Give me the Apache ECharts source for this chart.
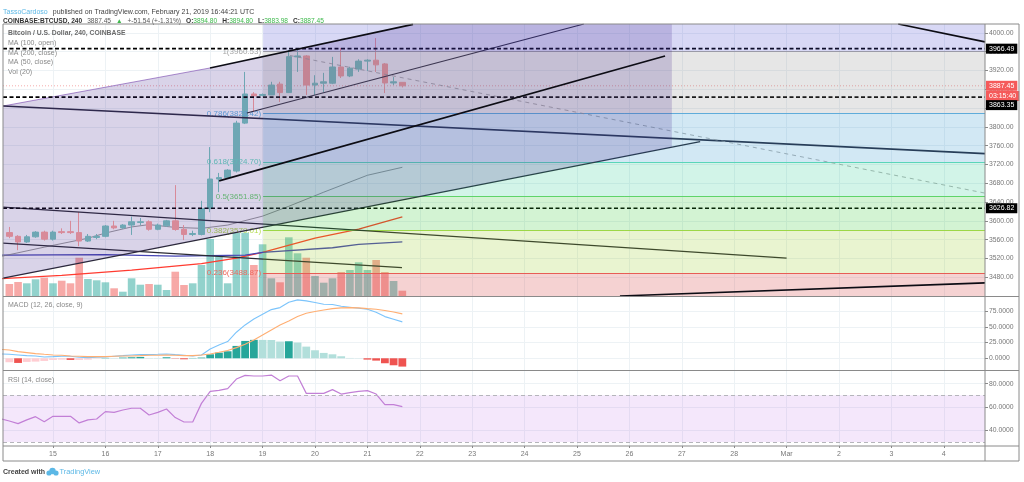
<!DOCTYPE html>
<html><head><meta charset="utf-8">
<style>html,body{margin:0;padding:0;background:#fff}#c{width:1024px;height:482px}</style>
<script src="https://cdn.jsdelivr.net/npm/echarts@6/dist/echarts.min.js"></script>
</head><body><div id="c"></div>
<script>
// x unit: day of February 2019 (Mar 1 = 29), one bar = 4 hours
const firstBarDay = 14 + 1/6, barStepDays = 1/6;
const dayTicks = [15,16,17,18,19,20,21,22,23,24,25,26,27,28,29,30,31,32];
const priceTicks = [3480,3520,3560,3600,3640,3680,3720,3760,3800,3840,3880,3920,3960,4000];
const macdTicks = [0,25,50,75];
const rsiTicks = [40,60,80];
// open, close, low, high
const candles = [
[3575,3567,3563,3587],[3567,3555,3537.5,3569.5],[3555,3566,3553,3570],[3566,3576,3564,3578],[3576,3561,3558,3579],
[3561,3576,3558,3579],[3577,3575,3572,3584],[3577,3575,3572,3600],[3575,3557,3546,3619],[3557,3567,3555,3572],
[3564.6,3567,3561,3572],[3567,3589,3565,3591],[3589,3585,3582,3600],[3585,3591,3583,3593],[3591,3598,3570,3609],
[3596.5,3598,3591,3606],[3598,3582,3579,3601],[3582,3591,3580,3594],[3589.3,3600,3587,3602],[3600,3581.6,3579,3676],
[3582,3571,3559,3591],[3571,3573,3567.5,3579],[3571,3626,3569,3642.6],[3626,3689,3618.5,3757],[3689,3692,3661,3702],
[3692,3708,3690,3710],[3706,3808,3703,3813],[3808,3870,3806,3917],[3870,3866,3832,3874],[3867,3869,3865,3871],
[3868,3889,3868,3896],[3891,3873,3853,3896],[3873,3949.5,3872,3964],[3949,3951,3917,3964],[3951,3889,3868,3953],
[3889,3893,3868,3910],[3893,3896,3874,3915],[3893,3927.5,3891,3949],[3927.5,3908.4,3904,3968],[3908.4,3925,3906,3928],
[3923,3940,3917,3944],[3940,3942,3919,3944],[3942,3932,3917,3989],[3934,3893.5,3872,3936],[3893.5,3896,3889,3906],
[3894.8,3887.45,3883.98,3894.8]];
const volumes = [120,140,127,167,183,127,153,127,383,170,157,137,77,43,177,113,120,113,60,243,
110,127,310,570,410,127,630,633,310,517,177,137,587,427,383,200,133,177,240,260,337,260,360,240,150,53];
// first value of the line arrays lies one bar before the first candle
const macdLine = [7,6.3,5.3,4.2,3.7,2.1,2.6,3.2,3.2,1.6,1.1,1.6,2.1,3.2,4.2,5.3,5.8,5.8,6.3,6.9,5.8,4.8,3.7,5.3,14.8,21.2,26.5,41.3,52.9,62.4,69.8,77.2,80.4,88.9,92.6,91,88.4,85.7,85.2,82.5,81,79.4,77.8,73,66.1,61.9,57.7];
const signalLine = [14,13.2,10.6,9,7.4,6.3,5.3,4.8,3.7,3.2,2.6,2.6,2.6,3.2,3.7,3.7,4.2,4.8,4.8,5.3,4.8,4.2,4.2,5.3,6.9,9.5,12.2,16.9,22.2,29.1,37,45,52.9,59.3,66.1,71.4,74.1,76.7,78.8,79.9,80.4,79.9,78.8,77.8,75.7,73.5,70.4];
const macdHist = [-6.3,-7.4,-5.8,-5.3,-4.2,-2.6,-2.1,-2.6,-2.6,-2.1,-.5,.5,.5,1.1,1.6,2.1,.5,.5,1.6,-.5,-1.6,.5,1.1,6.3,9,11.1,19.6,27.5,29.2,29.1,29,26.5,27,24.9,18.5,12.7,8.5,6.3,3.2,.5,.3,-2.1,-3.7,-7.9,-11.1,-13.2];
const rsiLine = [50,48,45.7,48.9,51.7,47.4,52,52,52,46.3,48.9,49.7,56,55.4,57.4,58.9,58.9,53.1,55.4,58.3,50.9,47.1,47.1,63.1,73.4,74.3,75.7,84,87.1,86.6,86.6,87.4,82.6,86.6,86.6,71.7,71.7,71.7,74.9,71.1,72.3,73.4,74,71.1,62,62,60.3];
// moving averages: [bar number, price]
const ma100 = [[-1,3524],[4,3544],[9,3563],[11,3574],[14,3587],[16,3592],[19,3586],[22,3584],[25,3591],[29,3610],[32,3631],[36,3661],[41,3697],[45,3714]];
const ma50 = [[-1,3527],[11,3528],[19,3525],[27,3527],[29,3533],[37,3542.7],[40,3549.7],[45,3555]];
const ma200 = [[-1,3476.8],[6,3484],[14,3495],[22,3508.8],[26,3520.5],[29,3533],[35,3563],[40,3582.3],[45,3608.5]];
// drawings: [day, price] end points
const leftEdge = 14.046, rightEdge = 32.786, fibStart = 19.01, channelEnd = 26.81;
const channelArea = [[leftEdge,3844.4],[17.996,3925.4],[21.87,4018.1],[21.87,4019],[channelEnd,4019],[channelEnd,3757],[leftEdge,3477.9]];
const channelEdge = [[leftEdge,3844.4],[17.996,3925.4]];
const blackLines = [
 [[17.996,3925.4],[21.87,4018.1]],
 [[18.17,3685.2],[26.68,3951]],
 [[25.82,3440],[rightEdge,3467.9]],
 [[31.13,4019],[rightEdge,3980.8]]];
const underLinesBold = [
 [[leftEdge,3844.4],[rightEdge,3743]]];
const underLines = [
 [[18.70,3829.5],[25.13,4019]],
 [[leftEdge,3477.9],[27.35,3768.8]],
 [[leftEdge,3629.2],[29.0,3520.5]],
 [[leftEdge,3552.5],[21.66,3500.3]]];
const dashedTrend = [[19.52,3952],[rightEdge,3659]];
const levelPrices = [3966.49,3863.35,3626.82];
const lastPrice = 3887.45;
const fibLevels = [1,0.786,0.618,0.5,0.382,0.236];
const fibPrices = [3960.53,3828.42,3724.70,3651.85,3579.01,3488.87];
const fibLine = ['#a8a8a8','#64b5e6','#69dcc0','#6fd86f','#b4dc50','#ee6a5f'];
const fibFill = ['rgba(128,128,128,.2)','rgba(30,140,200,.2)','rgba(30,200,140,.2)','rgba(35,195,35,.2)','rgba(145,200,20,.2)','rgba(210,50,50,.22)'];
const topFill = 'rgba(60,60,205,.2)';
const FONT = '"Liberation Sans",Arial,sans-serif';
const UP='#7ac9bf', DOWN='#fea49d', GRIDC='#edf2f5', AX='#8a8a8a', TXT='#777';

const barDay = i => firstBarDay + i*barStepDays;
const leadLine = a => a.map((v,i)=>[barDay(i-1),v]);
const maLine = a => a.map(p=>[barDay(p[0]),p[1]]);
const chart = echarts.init(document.getElementById('c'),null,{renderer:'canvas'});

function xAx(idx,labels){return {type:'value',gridIndex:idx,min:leftEdge,max:rightEdge,
  axisLine:{show:false},
  axisTick:{show:labels,customValues:dayTicks,length:2,lineStyle:{color:AX}},
  axisLabel:{show:labels,customValues:dayTicks,fontSize:7,fontFamily:FONT,color:TXT,margin:5,hideOverlap:false,
     formatter:v=>v===29?'Mar':(v>29?String(v-28):String(v))},
  splitLine:{show:true,lineStyle:{color:GRIDC,width:1}}};}
function yAx(idx,ticks,min,max,dec){return {type:'value',gridIndex:idx,position:'right',min:min,max:max,scale:true,
  axisLine:{show:false},
  axisTick:{show:true,customValues:ticks,length:3,lineStyle:{color:AX}},
  axisLabel:{customValues:ticks,fontSize:6.8,fontFamily:FONT,color:TXT,margin:4,formatter:v=>v.toFixed(dec)},
  splitLine:{show:true,lineStyle:{color:GRIDC,width:1}}};}
const line=(d,color,w,z,extra)=>Object.assign({type:'line',data:d,xAxisIndex:0,yAxisIndex:0,symbol:'none',silent:true,z:z,
  lineStyle:{color:color,width:w}},extra||{});

const fibBands = fibPrices.map((p,i)=>[fibStart,rightEdge,p,i<5?fibPrices[i+1]:3440,i]);
fibBands.unshift([fibStart,rightEdge,4019,fibPrices[0],-1]);

const series=[
 // volume
 {type:'bar',xAxisIndex:0,yAxisIndex:1,barWidth:7.6,z:1,silent:true,
  data:volumes.map((v,i)=>({value:[barDay(i),v],itemStyle:{color:candles[i][1]>=candles[i][0]?'rgba(38,166,154,.5)':'rgba(239,83,80,.5)'}}))},
 // moving averages
 line(maLine(ma200),'#ff3b30',1.3,3),
 line(maLine(ma50),'#4646b4',1.3,3),
 line(maLine(ma100),'#808080',0.8,3),
 // candles
 {type:'candlestick',xAxisIndex:0,yAxisIndex:0,barWidth:6,z:4,silent:true,
  data:candles.map((c,i)=>[barDay(i),c[0],c[1],c[2],c[3]]),
  itemStyle:{color:UP,color0:DOWN,borderColor:UP,borderColor0:DOWN,borderWidth:1}},
 // last price line
 line([[leftEdge,lastPrice],[rightEdge,lastPrice]],'#f08a8a',0.7,4,{lineStyle:{color:'#f08a8a',width:0.7,type:[1,2]}}),
 // trend drawings
 line(channelEdge,'#b090d0',1,5),
 ...underLinesBold.map(l=>line(l,'#2a2a3c',1.7,5)),
 ...underLines.map(l=>line(l,'#2a2a33',1.2,5)),
 line(dashedTrend,'#a0a0a0',0.8,5,{lineStyle:{color:'#a0a0a0',width:0.8,type:[4,4]}}),
 ...levelPrices.map(p=>line([[leftEdge,p],[rightEdge,p]],'#000',1.6,5,{lineStyle:{color:'#000',width:1.6,type:[4,2.5]}})),
 // fibonacci bands
 {type:'custom',xAxisIndex:0,yAxisIndex:0,z:6,silent:true,clip:true,data:fibBands,encode:{x:0,y:2},
  renderItem:(p,api)=>{const a=api.coord([api.value(0),api.value(2)]),b=api.coord([api.value(1),api.value(3)]);const k=api.value(4);
   return {type:'rect',shape:{x:a[0],y:a[1],width:b[0]-a[0],height:b[1]-a[1]},style:{fill:k<0?topFill:fibFill[k]}};}},
 // fibonacci level lines with labels
 ...fibPrices.map((p,i)=>({type:'line',xAxisIndex:0,yAxisIndex:0,data:[],symbol:'none',silent:true,z:7,
   markLine:{silent:true,symbol:'none',animation:false,precision:2,lineStyle:{color:fibLine[i],width:1,type:'solid'},
     data:[[{coord:[fibStart,p]},{coord:[rightEdge,p]}]],
     label:{show:true,position:'start',distance:2,formatter:fibLevels[i]+'('+p.toFixed(2)+')',fontSize:8,fontFamily:FONT,color:fibLine[i]}}})),
 // channel fill
 {type:'custom',xAxisIndex:0,yAxisIndex:0,z:8,silent:true,clip:true,data:[channelArea[0]],encode:{x:0,y:1},
  renderItem:(p,api)=>({type:'polygon',shape:{points:channelArea.map(v=>api.coord(v))},style:{fill:'rgba(65,35,140,.2)'}})},
 // black drawings above the channel
 ...blackLines.map(l=>line(l,'#0c0c14',1.7,9)),
 // price axis tags
 {type:'line',xAxisIndex:0,yAxisIndex:0,data:[],z:20,silent:true,symbol:'none',
  markLine:{silent:true,symbol:'none',animation:false,lineStyle:{color:'rgba(0,0,0,0)',width:0},
   data:[
    {yAxis:3966.49,label:{backgroundColor:'#000',color:'#fff'}},
    {yAxis:lastPrice,label:{backgroundColor:'#f55a5a',color:'#fff'}},
    {yAxis:3865.5,label:{formatter:'03:15:40',backgroundColor:'#f55a5a',color:'#fff'}},
    {yAxis:3863.35,label:{backgroundColor:'#000',color:'#fff',offset:[0,8]}},
    {yAxis:3626.82,label:{backgroundColor:'#000',color:'#fff'}}
   ],
   label:{show:true,position:'end',distance:1,fontSize:7,fontFamily:FONT,padding:[1.5,3],align:'left',precision:2,formatter:p=>Number(p.value).toFixed(2)}}},
 // MACD
 {type:'bar',xAxisIndex:1,yAxisIndex:2,barWidth:7.8,z:2,silent:true,
  data:macdHist.map((v,i)=>{const prev=i?macdHist[i-1]:v;const c=v>=0?(v>prev?'#26a69a':'#b2dfdb'):(v<prev?'#ef5350':'#ffcdd2');
    return {value:[barDay(i),v],itemStyle:{color:c}};})},
 {type:'line',xAxisIndex:1,yAxisIndex:2,data:leadLine(macdLine),symbol:'none',silent:true,z:3,lineStyle:{color:'#7cc4fb',width:1.1}},
 {type:'line',xAxisIndex:1,yAxisIndex:2,data:leadLine(signalLine),symbol:'none',silent:true,z:3,lineStyle:{color:'#ffae72',width:1.1}},
 // RSI
 {type:'line',xAxisIndex:2,yAxisIndex:3,data:leadLine(rsiLine),symbol:'none',silent:true,z:3,lineStyle:{color:'#c27fd6',width:1.2},
  markArea:{silent:true,itemStyle:{color:'rgba(155,39,220,.11)'},data:[[{yAxis:70},{yAxis:30}]]},
  markLine:{silent:true,symbol:'none',label:{show:false},lineStyle:{color:'#b5b5bb',type:[4,3],width:1},data:[{yAxis:70},{yAxis:30}]}}
];

const txt=(x,y,text,style)=>({type:'text',x:x,y:y,silent:true,z:100,style:Object.assign({text:text,fontSize:7,fontFamily:FONT,fill:'#888',textVerticalAlign:'middle'},style||{})});
const hline=(y,x1,x2)=>({type:'line',silent:true,z:90,shape:{x1:x1,y1:y,x2:x2,y2:y},style:{stroke:AX,lineWidth:1}});
const rich={a:{color:'#5cb8e6',fontSize:7,fontWeight:'normal',fontFamily:FONT},d:{color:'#444',fontSize:7,fontWeight:'normal',fontFamily:FONT},
 b:{color:'#333',fontSize:6.6,fontWeight:'bold',fontFamily:FONT},n:{color:'#555',fontSize:6.6,fontWeight:'normal',fontFamily:FONT},g:{color:'#3cb84a',fontSize:6.6,fontWeight:'normal',fontFamily:FONT}};
chart.setOption({
 animation:false,
 backgroundColor:'#fff',
 textStyle:{fontFamily:FONT},
 title:[
  {left:3,top:3,padding:0,text:'{a|TassoCardoso} {d|published on TradingView.com, February 21, 2019 16:44:21 UTC}',textStyle:{rich:rich,fontWeight:'normal'}},
  {left:3,top:12.5,padding:0,text:'{b|COINBASE:BTCUSD, 240} {n|3887.45} {g|▲} {n|+-51.54 (+-1.31%)} {b|O:}{g|3894.80} {b|H:}{g|3894.80} {b|L:}{g|3883.98} {b|C:}{g|3887.45}',textStyle:{rich:rich,fontWeight:'normal'}}
 ],
 grid:[
  {left:3,right:39,top:24,height:272},
  {left:3,right:39,top:297,height:73},
  {left:3,right:39,top:371,height:75}
 ],
 xAxis:[xAx(0,false),xAx(1,false),xAx(2,true)],
 yAxis:[
  yAx(0,priceTicks,3440,4019,2),
  {type:'value',gridIndex:0,min:0,max:2720,show:false,splitLine:{show:false}},
  yAx(1,macdTicks,-18.6,97.2,4),
  yAx(2,rsiTicks,26.5,90.9,4)
 ],
 series:series,
 graphic:[
  {type:'rect',silent:true,z:90,shape:{x:3,y:24,width:1016,height:437},style:{fill:'none',stroke:AX,lineWidth:1}},
  {type:'line',silent:true,z:90,shape:{x1:985,y1:24,x2:985,y2:461},style:{stroke:AX,lineWidth:1}},
  hline(296.5,3,1019),hline(370.5,3,1019),hline(446,3,1019),
  txt(8,33.5,'Bitcoin / U.S. Dollar, 240, COINBASE',{fontWeight:'bold',fontSize:6.8,fill:'#6a6a6a'}),
  txt(8,43,'MA (100, open)'),txt(8,52.8,'MA (200, close)'),txt(8,62.5,'MA (50, close)'),txt(8,72,'Vol (20)'),
  txt(8,305.5,'MACD (12, 26, close, 9)'),txt(8,380.5,'RSI (14, close)'),
  txt(3,472,'Created with',{fill:'#444',fontWeight:'bold',fontSize:7}),
  {type:'circle',silent:true,z:100,shape:{cx:49,cy:473,r:2.6},style:{fill:'#5cb8e6'}},
  {type:'circle',silent:true,z:100,shape:{cx:52.5,cy:471,r:3.2},style:{fill:'#5cb8e6'}},
  {type:'circle',silent:true,z:100,shape:{cx:56,cy:473,r:2.6},style:{fill:'#5cb8e6'}},
  txt(59.5,472,'TradingView',{fill:'#5cb8e6',fontSize:7.4})
 ]
});
</script></body></html>
